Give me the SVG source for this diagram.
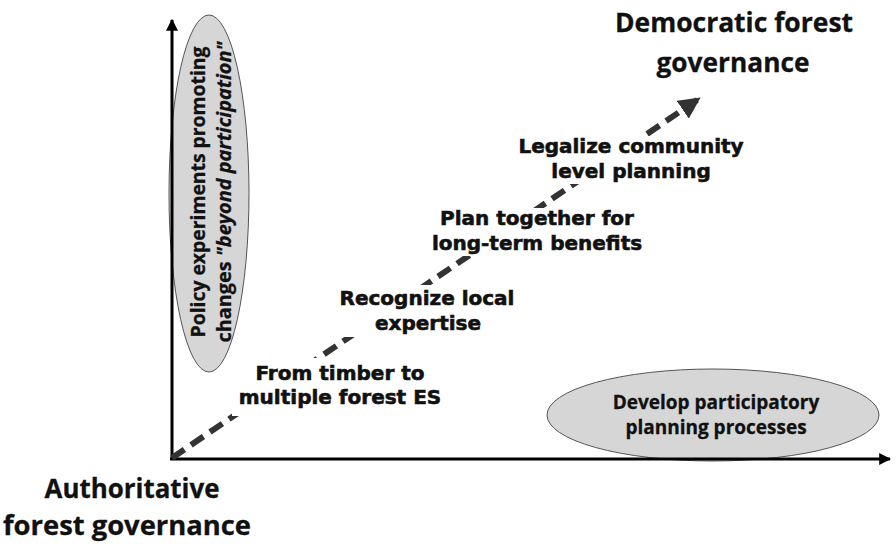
<svg xmlns="http://www.w3.org/2000/svg" width="896" height="544" viewBox="0 0 896 544">
<style>
.cal{font-family:"Open Sans",Lato,"Liberation Sans",sans-serif;font-weight:700;fill:#111;stroke:#111;stroke-width:0.3;text-anchor:middle}
.blk{font-family:"DejaVu Sans","Liberation Sans",sans-serif;font-weight:700;font-size:20px;fill:#111;stroke:#111;stroke-width:0.6;text-anchor:middle}
.ell{fill:#d6d6d6;stroke:#555;stroke-width:1}
.mask{fill:#fff}
</style>
<defs>
<marker id="ah" viewBox="0 0 10 10" refX="9" refY="5" markerWidth="4" markerHeight="4" orient="auto" markerUnits="strokeWidth">
<path d="M0,0 L10,5 L0,10 z" fill="#000"/>
</marker>
<marker id="dh" viewBox="0 0 10 10" refX="8" refY="5" markerWidth="3.6" markerHeight="3.6" orient="auto" markerUnits="strokeWidth">
<path d="M0,0 L10,5 L0,10 z" fill="#333"/>
</marker>
</defs>
<rect width="896" height="544" fill="#fff"/>

<g id="node-policy">
<ellipse class="ell" cx="209" cy="193.5" rx="40" ry="178.5"/>
<text class="cal" font-size="20" transform="translate(205,192) rotate(-90)" textLength="291" lengthAdjust="spacingAndGlyphs">Policy experiments promoting</text>
<text class="cal" font-size="20" transform="translate(231,192) rotate(-90)" textLength="301" lengthAdjust="spacingAndGlyphs">changes <tspan font-style="italic">"beyond participation"</tspan></text>
</g>

<g id="node-develop">
<ellipse class="ell" cx="713" cy="415" rx="166" ry="46"/>
<text class="cal" font-size="19" x="716" y="409">Develop participatory</text>
<text class="cal" font-size="19" x="716" y="434">planning processes</text>
</g>

<g id="connectors">
<line x1="172" y1="460" x2="172" y2="20" stroke="#000" stroke-width="3" marker-end="url(#ah)"/>
<line x1="170" y1="459" x2="890" y2="459" stroke="#000" stroke-width="3" marker-end="url(#ah)"/>
<line x1="172" y1="458" x2="697" y2="100" stroke="#333" stroke-width="6" stroke-dasharray="15 8" marker-end="url(#dh)"/>
</g>

<g id="node-democratic">
<text class="cal" font-size="26" x="734" y="32" textLength="238" lengthAdjust="spacingAndGlyphs">Democratic forest</text>
<text class="cal" font-size="26" x="733" y="72" textLength="153" lengthAdjust="spacingAndGlyphs">governance</text>
</g>

<g id="node-authoritative">
<text class="cal" font-size="26" x="132" y="498" textLength="175" lengthAdjust="spacingAndGlyphs">Authoritative</text>
<text class="cal" font-size="26" x="127" y="535" textLength="248" lengthAdjust="spacingAndGlyphs">forest governance</text>
</g>

<g id="node-timber">
<rect class="mask" x="232" y="358" width="214" height="58"/>
<text class="blk" x="340" y="380">From timber to</text>
<text class="blk" x="340" y="404">multiple forest ES</text>
</g>

<g id="node-recognize">
<rect class="mask" x="334" y="285" width="188" height="52"/>
<text class="blk" x="427" y="305">Recognize local</text>
<text class="blk" x="428" y="330">expertise</text>
</g>

<g id="node-plan">
<rect class="mask" x="430" y="208" width="215" height="48"/>
<text class="blk" x="537" y="225">Plan together for</text>
<text class="blk" x="537" y="250">long-term benefits</text>
</g>

<g id="node-legalize">
<rect class="mask" x="514" y="136" width="236" height="48"/>
<text class="blk" x="631" y="153">Legalize community</text>
<text class="blk" x="631" y="178">level planning</text>
</g>
</svg>
